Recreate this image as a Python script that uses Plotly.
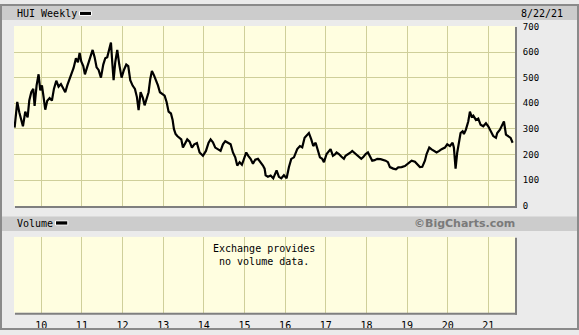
import plotly.graph_objects as go

W, H = 579, 335

# ---- data (decimal year, HUI weekly level) ----
years = [
    2009.345, 2009.378, 2009.410, 2009.460, 2009.509, 2009.550, 2009.607, 2009.665, 2009.706, 2009.755,
    2009.804, 2009.837, 2009.886, 2009.935, 2009.976, 2010.017, 2010.058, 2010.099, 2010.148, 2010.206,
    2010.263, 2010.312, 2010.370, 2010.427, 2010.485, 2010.542, 2010.591, 2010.640, 2010.690, 2010.739,
    2010.796, 2010.854, 2010.903, 2010.944, 2010.985, 2011.034, 2011.075, 2011.124, 2011.173, 2011.223,
    2011.264, 2011.313, 2011.362, 2011.411, 2011.469, 2011.526, 2011.575, 2011.624, 2011.674, 2011.715,
    2011.747, 2011.780, 2011.821, 2011.870, 2011.920, 2011.977, 2012.034, 2012.092, 2012.141, 2012.190,
    2012.248, 2012.305, 2012.354, 2012.395, 2012.445, 2012.502, 2012.543, 2012.592, 2012.641, 2012.682,
    2012.723, 2012.772, 2012.822, 2012.871, 2012.920, 2012.977, 2013.035, 2013.084, 2013.133, 2013.191,
    2013.232, 2013.264, 2013.305, 2013.346, 2013.396, 2013.445, 2013.486, 2013.535, 2013.592, 2013.650,
    2013.707, 2013.765, 2013.830, 2013.896, 2013.978, 2014.052, 2014.117, 2014.167, 2014.224, 2014.281,
    2014.347, 2014.412, 2014.470, 2014.527, 2014.593, 2014.659, 2014.716, 2014.773, 2014.822, 2014.880,
    2014.937, 2014.986, 2015.044, 2015.093, 2015.150, 2015.208, 2015.265, 2015.331, 2015.397, 2015.454,
    2015.495, 2015.520, 2015.577, 2015.643, 2015.708, 2015.790, 2015.847, 2015.905, 2015.971, 2016.036,
    2016.094, 2016.151, 2016.217, 2016.298, 2016.364, 2016.421, 2016.479, 2016.528, 2016.585, 2016.643,
    2016.692, 2016.750, 2016.807, 2016.856, 2016.913, 2016.955, 2017.020, 2017.077, 2017.118, 2017.176,
    2017.225, 2017.266, 2017.323, 2017.381, 2017.446, 2017.487, 2017.545, 2017.611, 2017.651, 2017.709,
    2017.758, 2017.816, 2017.873, 2017.922, 2017.980, 2018.037, 2018.086, 2018.143, 2018.201, 2018.266,
    2018.348, 2018.414, 2018.471, 2018.529, 2018.578, 2018.660, 2018.726, 2018.783, 2018.865, 2018.947,
    2019.029, 2019.111, 2019.193, 2019.250, 2019.316, 2019.374, 2019.439, 2019.480, 2019.546, 2019.603,
    2019.661, 2019.726, 2019.792, 2019.849, 2019.931, 2019.988, 2020.054, 2020.120, 2020.152, 2020.177,
    2020.193, 2020.234, 2020.283, 2020.316, 2020.366, 2020.398, 2020.447, 2020.505, 2020.546, 2020.587,
    2020.628, 2020.694, 2020.751, 2020.809, 2020.874, 2020.940, 2020.997, 2021.054, 2021.120, 2021.186,
    2021.218, 2021.284, 2021.350, 2021.383, 2021.432, 2021.489, 2021.547, 2021.596,
]
values = [
    305, 370, 405, 365, 340, 310, 367, 345, 411, 443,
    456, 390, 470, 513, 450, 470, 424, 375, 410, 420,
    411, 456, 488, 465, 475, 460, 443, 470, 490, 513,
    538, 576, 560, 596, 563, 545, 513, 538, 563, 580,
    608, 580, 540, 530, 500, 551, 576, 580, 614, 637,
    560, 490, 560, 608, 551, 500, 530, 551, 545, 490,
    469, 456, 424, 373, 443, 420, 392, 415, 443, 495,
    526, 510, 490, 470, 443, 437, 430, 405, 367, 360,
    335, 300, 280, 272, 265, 259, 227, 240, 259, 250,
    227, 240, 245, 208, 195, 214, 246, 259, 248, 227,
    221, 214, 240, 252, 246, 240, 208, 189, 157, 170,
    160, 183, 208, 195, 183, 164, 180, 183, 170, 157,
    145, 119, 113, 118, 107, 138, 113, 107, 119, 107,
    151, 183, 189, 221, 233, 228, 265, 272, 284, 259,
    233, 246, 214, 189, 183, 170, 202, 214, 221, 195,
    200, 208, 202, 192, 183, 195, 200, 208, 214, 205,
    200, 189, 183, 190, 202, 208, 190, 176, 178, 183,
    182, 180, 176, 170, 151, 145, 142, 150, 151, 155,
    164, 176, 172, 164, 151, 152, 176, 202, 227, 220,
    214, 208, 214, 221, 227, 240, 233, 246, 227, 170,
    145, 208, 252, 284, 291, 280, 297, 329, 367, 348,
    352, 335, 340, 316, 310, 322, 310, 291, 272, 265,
    284, 297, 316, 329, 278, 272, 265, 246,
]
year_ticks = list(range(2010, 2022))
year_labels = ["10", "11", "12", "13", "14", "15", "16", "17", "18", "19", "20", "21"]
price_ticks = [0, 100, 200, 300, 400, 500, 600, 700]
title_text = "HUI Weekly"
volume_text = "Volume"
date_text = "8/22/21"
credit_text = "©BigCharts.com"
no_volume_text = "Exchange provides<br>no volume data."

MONO = "DejaVu Sans Mono"
GRID = "#cfcf9a"
BAND = "#cccccc"
SHADOW = "#7f7f7f"


def px(x):
    return x / W


def py(y):
    return 1 - y / H


fig = go.Figure()
fig.add_trace(go.Scatter(x=years, y=values, mode="lines",
                         line=dict(color="black", width=2.2),
                         xaxis="x", yaxis="y", hoverinfo="skip", showlegend=False))
fig.add_trace(go.Scatter(x=[years[0], years[-1]], y=[None, None], mode="lines",
                         xaxis="x2", yaxis="y2", hoverinfo="skip", showlegend=False))

xdom = [px(14), px(515)]
xrange = [2009.33, 2021.655]

fig.update_layout(
    width=W, height=H,
    margin=dict(l=0, r=0, t=0, b=0),
    paper_bgcolor="#ebebeb",
    plot_bgcolor="#fffee0",
    showlegend=False,
    font=dict(family=MONO, size=10, color="black"),
    xaxis=dict(domain=xdom, range=xrange, anchor="y", tickvals=year_ticks,
               showticklabels=False, showgrid=True, gridcolor=GRID, gridwidth=1,
               zeroline=False, showline=False, ticks=""),
    yaxis=dict(domain=[py(207.6), py(22.6)], range=[-1, 701.5], anchor="x", side="right",
               tickvals=price_ticks, showgrid=True, gridcolor=GRID, gridwidth=1,
               zeroline=False, showline=False, ticks="outside", ticklen=5,
               tickcolor="rgba(0,0,0,0)", tickfont=dict(family=MONO, size=9, color="black")),
    xaxis2=dict(domain=xdom, range=xrange, anchor="y2", tickvals=year_ticks, ticktext=year_labels,
                showgrid=True, gridcolor=GRID, gridwidth=1, zeroline=False, showline=False,
                ticks="outside", ticklen=3, tickcolor="rgba(0,0,0,0)",
                tickfont=dict(family=MONO, size=10, color="black")),
    yaxis2=dict(domain=[py(317.3), py(239.3)], range=[0, 1], anchor="x2", showgrid=False,
                showticklabels=False, zeroline=False, showline=False, ticks=""),
)

shapes = []
# outer frame
shapes.append(dict(type="rect", xref="paper", yref="paper", x0=px(1), x1=px(578), y0=py(1), y1=py(334),
                   line=dict(color="#8a8a8a", width=2), fillcolor="rgba(0,0,0,0)", layer="above"))
# header bands
shapes.append(dict(type="rect", xref="paper", yref="paper", x0=px(2), x1=px(577), y0=py(2), y1=py(16.5),
                   line=dict(width=0), fillcolor=BAND, layer="below"))
shapes.append(dict(type="rect", xref="paper", yref="paper", x0=px(2), x1=px(577), y0=py(218.3), y1=py(233.3),
                   line=dict(width=0), fillcolor=BAND, layer="below"))
# panel shadows (right and bottom)
for top, bottom in [(22.6, 207.6), (239.3, 317.3)]:
    shapes.append(dict(type="line", xref="paper", yref="paper", x0=px(516), x1=px(516),
                       y0=py(top + 1), y1=py(bottom + 2), line=dict(color=SHADOW, width=2)))
    shapes.append(dict(type="line", xref="paper", yref="paper", x0=px(15), x1=px(517),
                       y0=py(bottom + 1), y1=py(bottom + 1), line=dict(color=SHADOW, width=2)))
# legend swatches
shapes.append(dict(type="rect", xref="paper", yref="paper", x0=px(79.5), x1=px(91.5), y0=py(7.5), y1=py(11.8),
                   line=dict(color="white", width=1), fillcolor="black"))
shapes.append(dict(type="rect", xref="paper", yref="paper", x0=px(55.5), x1=px(67.8), y0=py(222.8), y1=py(227.2),
                   line=dict(color="white", width=1), fillcolor="black"))
fig.update_layout(shapes=shapes)

annotations = [
    dict(text=title_text, x=px(14.5), y=py(9.5), xanchor="left", yanchor="middle"),
    dict(text=volume_text, x=px(14.5), y=py(225.5), xanchor="left", yanchor="middle"),
    dict(text=date_text, x=px(565), y=py(9.5), xanchor="right", yanchor="middle"),
    dict(text=credit_text, x=px(517), y=py(225.3), xanchor="right", yanchor="middle",
         font=dict(family="DejaVu Sans", size=11, color="#7a7a7a", weight="bold")),
    dict(text=no_volume_text, x=px(263.5), y=py(257.5), xanchor="center", yanchor="middle", align="center"),
]
for a in annotations:
    a.update(xref="paper", yref="paper", showarrow=False)
    a.setdefault("font", dict(family=MONO, size=10, color="black"))
fig.update_layout(annotations=annotations)

fig.write_html("out.html")
